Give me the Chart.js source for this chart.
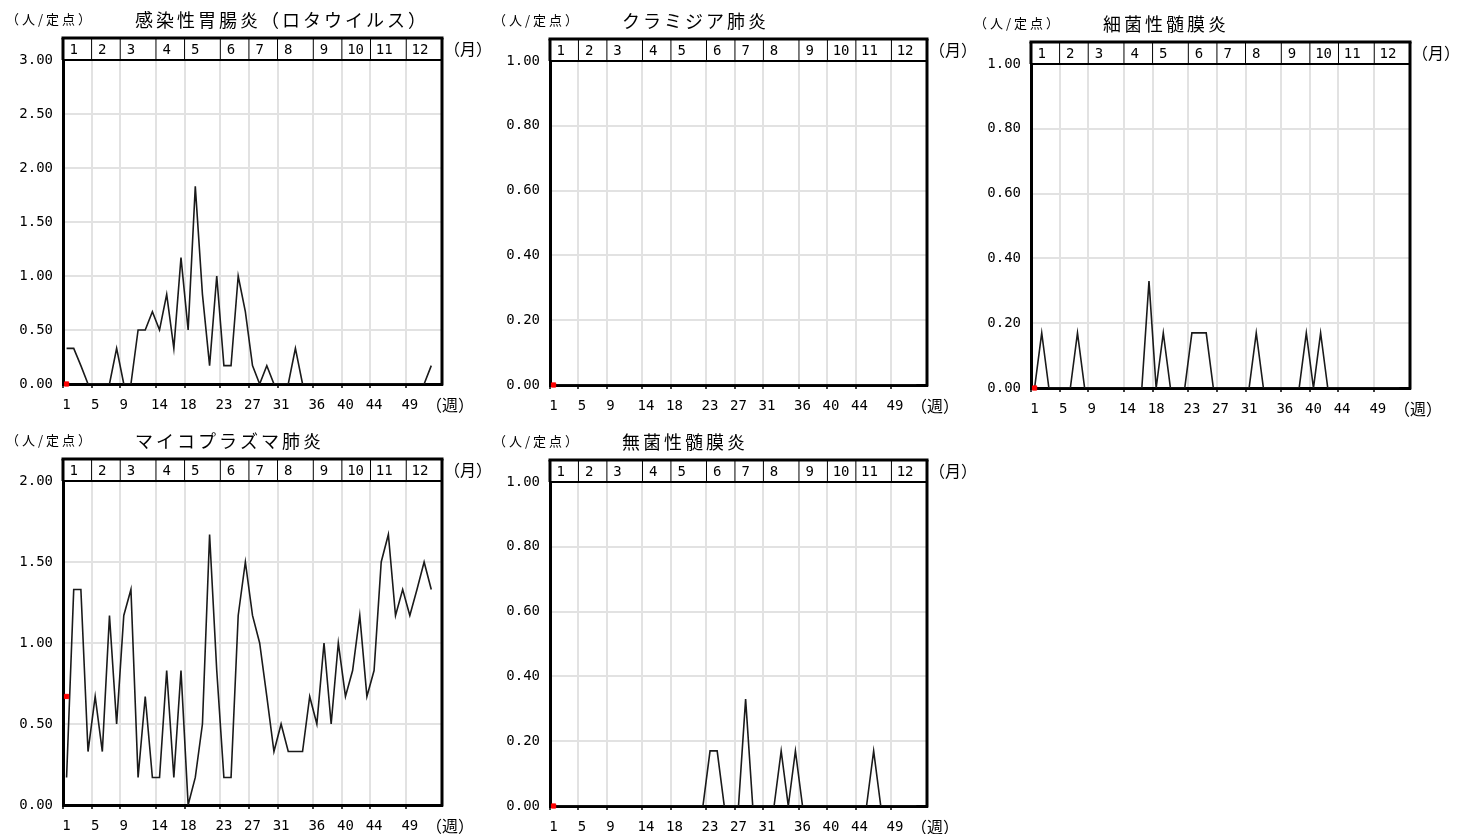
<!DOCTYPE html>
<html lang="ja">
<head>
<meta charset="utf-8">
<title>週別定点当たり報告数</title>
<script src="https://cdn.jsdelivr.net/npm/chart.js@4.4.1/dist/chart.umd.min.js"></script>
<style>
  html, body { margin:0; padding:0; background:#fff; overflow:hidden; }
  #wrap { position:relative; width:1457px; height:834px; }
  canvas { position:absolute; }
</style>
</head>
<body>
<div id="wrap">
  <canvas id="c1" width="490" height="420" style="left:0px;top:0px"></canvas>
  <canvas id="c2" width="490" height="420" style="left:487px;top:1px"></canvas>
  <canvas id="c3" width="490" height="420" style="left:968px;top:4px"></canvas>
  <canvas id="c4" width="490" height="420" style="left:0px;top:421px"></canvas>
  <canvas id="c5" width="490" height="420" style="left:487px;top:422px"></canvas>
</div>
<script>
// week categories (53 slots, data for 52 weeks of last year)
var weeks = ['1','2','3','4','5','6','7','8','9','10','11','12','13','14','15','16','17','18','19','20',
  '21','22','23','24','25','26','27','28','29','30','31','32','33','34','35','36','37','38','39','40',
  '41','42','43','44','45','46','47','48','49','50','51','52','53'];
var monthStarts = [1,5,9,14,18,23,27,31,36,40,44,49];
var months = ['1','2','3','4','5','6','7','8','9','10','11','12'];

// 感染性胃腸炎（ロタウイルス）
var rotaPrev = [0.33,0.33,0.17,0,0,0,0,0.33,0,0,
  0.5,0.5,0.67,0.5,0.83,0.33,1.17,0.5,1.83,0.83,
  0.17,1,0.17,0.17,1,0.67,0.17,0,0.17,0,
  0,0,0.33,0,0,0,0,0,0,0,
  0,0,0,0,0,0,0,0,0,0,
  0,0.17];
var rotaNow = [0];
var rotaTicks = [0,0.5,1,1.5,2,2.5,3];

// クラミジア肺炎
var chlamPrev = [0,0,0,0,0,0,0,0,0,0, 0,0,0,0,0,0,0,0,0,0,
  0,0,0,0,0,0,0,0,0,0, 0,0,0,0,0,0,0,0,0,0,
  0,0,0,0,0,0,0,0,0,0, 0,0];
var chlamNow = [0];

// 細菌性髄膜炎
var bactPrev = [0,0.17,0,0,0,0,0.17,0,0,0,
  0,0,0,0,0,0,0.33,0,0.17,0,
  0,0,0.17,0.17,0.17,0,0,0,0,0,
  0,0.17,0,0,0,0,0,0,0.17,0,
  0.17,0,0,0,0,0,0,0,0,0,
  0,0];
var bactNow = [0];

// マイコプラズマ肺炎
var mycoPrev = [0.17,1.33,1.33,0.33,0.67,0.33,1.17,0.5,1.17,1.33,
  0.17,0.67,0.17,0.17,0.83,0.17,0.83,0,0.17,0.5,
  1.67,0.83,0.17,0.17,1.17,1.5,1.17,1,0.67,0.33,
  0.5,0.33,0.33,0.33,0.67,0.5,1,0.5,1,0.67,
  0.83,1.17,0.67,0.83,1.5,1.67,1.17,1.33,1.17,1.33,
  1.5,1.33];
var mycoNow = [0.67];
var mycoTicks = [0,0.5,1,1.5,2];

// 無菌性髄膜炎
var asepPrev = [0,0,0,0,0,0,0,0,0,0,
  0,0,0,0,0,0,0,0,0,0,
  0,0,0.17,0.17,0,0,0,0.33,0,0,
  0,0,0.17,0,0.17,0,0,0,0,0,
  0,0,0,0,0,0.17,0,0,0,0,
  0,0];
var asepNow = [0];

var unitTicks = [0,0.2,0.4,0.6,0.8,1];

function seg(ctx, x1, y1, x2, y2, w){
  ctx.lineWidth = w;
  ctx.beginPath();
  ctx.moveTo(x1, y1);
  ctx.lineTo(x2, y2);
  ctx.stroke();
}

// header row with months, frame, titles and unit texts
var framePlugin = {
  id: 'frame',
  afterDraw: function(chart){
    var p = chart.options.plugins.frame;
    var ctx = chart.ctx, a = chart.chartArea, x = chart.scales.x;
    var half = (x.getPixelForValue(1) - x.getPixelForValue(0)) / 2;
    var hTop = a.top - 22;
    ctx.save();
    ctx.strokeStyle = '#000';
    ctx.fillStyle = '#000';
    ctx.font = '14px "DejaVu Sans Mono"';
    ctx.textAlign = 'center';
    ctx.textBaseline = 'middle';
    monthStarts.forEach(function(w, i){
      var idx = weeks.indexOf(String(w));
      var bx = x.getPixelForValue(idx) - half;
      if (i > 0) seg(ctx, bx, hTop, bx, a.top, 1);
      var lx = x.getPixelForValue(idx + 1) + (months[i].length - 1) * 3;
      ctx.fillText(months[i], lx, hTop + 12);
    });
    seg(ctx, a.left - 1.5, hTop, a.right + 1.5, hTop, 3);
    seg(ctx, a.left, a.top, a.right, a.top, 2);
    seg(ctx, a.left, hTop, a.left, a.top, 3);
    seg(ctx, a.right, hTop, a.right, a.bottom + 1.5, 3);

    ctx.textAlign = 'left';
    ctx.font = '18px "Noto Sans CJK JP"';
    ctx.letterSpacing = '3px';
    ctx.fillText(p.title, a.left + 72, a.top - 40);
    ctx.font = '13px "Noto Sans CJK JP"';
    ctx.letterSpacing = '3px';
    ctx.fillText('（人/定点）', a.left - 57, a.top - 41);
    ctx.letterSpacing = '0px';
    ctx.font = '16px "Noto Sans CJK JP"';
    ctx.fillText('（月）', a.right + 2, hTop + 11);
    ctx.fillText('（週）', a.right - 16, a.bottom + 21);
    ctx.restore();
  }
};

function isBoundary(i){
  return monthStarts.indexOf(Number(weeks[i])) > 0;
}

function panel(id, title, prev, now, ticks, padRight){
  var el = document.getElementById(id);
  if (!el) return;
  new Chart(el, {
    type: 'line',
    data: {
      labels: weeks,
      datasets: [
        {label:'今年', data: now, showLine:false, pointStyle:'rect', pointRadius:3,
          backgroundColor:'#ff0000', borderColor:'#ff0000', borderWidth:1, clip:false},
        {label:'昨年', data: prev, borderColor:'#1a1a1a', borderWidth:1.6, pointRadius:0,
          tension:0, fill:false}
      ]
    },
    options: {
      responsive:false, animation:false, events:[],
      layout:{padding:{top:60, right:padRight, left:0, bottom:0}},
      plugins:{legend:{display:false}, tooltip:{enabled:false}, frame:{title:title}},
      scales:{
        x:{
          offset:true,
          afterFit:function(s){ s.height = 36; },
          grid:{offset:true, lineWidth:2, tickLength:4, tickWidth:1.5,
            color:function(c){ return isBoundary(c.index) ? '#e2e2e2' : 'rgba(0,0,0,0)'; },
            tickColor:function(c){ return monthStarts.indexOf(Number(weeks[c.index])) >= 0 ? '#000' : 'rgba(0,0,0,0)'; }},
          border:{display:true, color:'#000', width:3},
          ticks:{autoSkip:false, maxRotation:0, minRotation:0, padding:9, color:'#000',
            font:{family:'DejaVu Sans Mono', size:14},
            callback:function(v, i){ return monthStarts.indexOf(Number(weeks[i])) >= 0 ? weeks[i] : ''; }}
        },
        y:{
          min:ticks[0], max:ticks[ticks.length - 1],
          afterFit:function(s){ s.width = 63; },
          afterBuildTicks:function(s){ s.ticks = ticks.map(function(v){ return {value:v}; }); },
          grid:{color:'#e2e2e2', lineWidth:2, drawTicks:false},
          border:{display:true, color:'#000', width:3},
          ticks:{padding:10, color:'#000', font:{family:'DejaVu Sans Mono', size:14},
            callback:function(v){ return Number(v).toFixed(2); }}
        }
      }
    },
    plugins:[framePlugin]
  });
}

panel('c1', '感染性胃腸炎（ロタウイルス）', rotaPrev, rotaNow, rotaTicks, 48);
panel('c2', 'クラミジア肺炎', chlamPrev, chlamNow, unitTicks, 50);
panel('c3', '細菌性髄膜炎', bactPrev, bactNow, unitTicks, 48);
panel('c4', 'マイコプラズマ肺炎', mycoPrev, mycoNow, mycoTicks, 48);
panel('c5', '無菌性髄膜炎', asepPrev, asepNow, unitTicks, 50);
</script>
</body>
</html>
